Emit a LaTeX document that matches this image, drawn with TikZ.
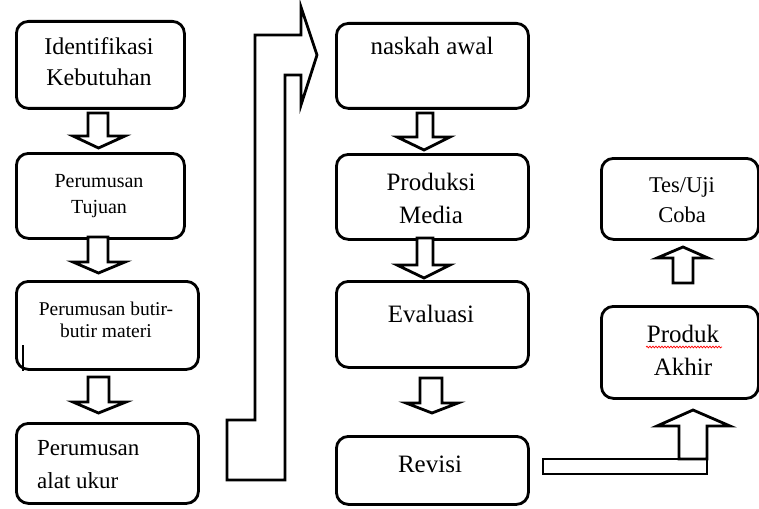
\documentclass[tikz,border=0pt]{standalone}
\usepackage{fontspec}
\setmainfont{Liberation Serif}
\usetikzlibrary{decorations.pathmorphing}
\tikzset{
  box/.style={draw=black, line width=2.8pt, rounded corners=12pt, fill=white, inner sep=0pt, anchor=north west},
  blk/.style={draw=black, line width=2.8pt, fill=white, line join=miter},
  txt/.style={inner sep=0pt, anchor=base},
  txtl/.style={inner sep=0pt, anchor=base west},
}
\newcommand{\fs}[1]{\fontsize{#1}{#1}\selectfont}
\begin{document}
\begin{tikzpicture}[x=1pt,y=-1pt]
\useasboundingbox (0,0) rectangle (759,508);
% boxes
\node[box, minimum width=168pt, minimum height=87pt] (b1) at (15,20) {};
\node[box, minimum width=168pt, minimum height=85pt] (b2) at (15,152) {};
\node[box, minimum width=182pt, minimum height=88pt] (b3) at (15,280) {};
\node[box, minimum width=182pt, minimum height=80pt] (b4) at (15,422) {};
\node[box, minimum width=192pt, minimum height=85pt] (m1) at (335,22) {};
\node[box, minimum width=192pt, minimum height=85pt] (m2) at (335,153) {};
\node[box, minimum width=192pt, minimum height=86pt] (m3) at (335,280) {};
\node[box, minimum width=192pt, minimum height=68pt] (m4) at (335,435) {};
\node[box, minimum width=157pt, minimum height=81pt] (r1) at (600,157) {};
\node[box, minimum width=157pt, minimum height=92pt] (r2) at (600,305) {};
% texts
\node[txt] (t1a) at (99,55) {\fs{24}Identifikasi};
\node[txt] (t1b) at (99,85) {\fs{24}Kebutuhan};
\node[txt] (t2a) at (99,187) {\fs{20}Perumusan};
\node[txt] (t2b) at (99,213) {\fs{20}Tujuan};
\node[txt] (t3a) at (106,315) {\fs{19.5}Perumusan butir-};
\node[txt] (t3b) at (106,337) {\fs{19.5}butir materi};
\node[txtl] (t4a) at (37,455) {\fs{23}Perumusan};
\node[txtl] (t4b) at (37,488) {\fs{23}alat ukur};
\node[txt] (u1) at (432,55) {\fs{25}naskah awal};
\node[txt] (u2a) at (431,190) {\fs{25}Produksi};
\node[txt] (u2b) at (431,223) {\fs{25}Media};
\node[txt] (u3) at (431,322) {\fs{25}Evaluasi};
\node[txt] (u4) at (430,472) {\fs{25}Revisi};
\node[txt] (v1a) at (682,192) {\fs{22.5}Tes/Uji};
\node[txt] (v1b) at (682,222) {\fs{22.5}Coba};
\node[txt] (v2a) at (683,342) {\fs{25}Produk};
\node[txt] (v2b) at (683,375) {\fs{25}Akhir};
% red spell-check squiggle
\draw[red, line width=0.7pt, decorate, decoration={snake, segment length=3pt, amplitude=0.9pt}] (646,347) -- (722,347);
% stray cursor mark
\draw[line width=1.8pt] (23,345) -- (23,371);
% block arrows, left column
\draw[blk] (88,113) -- (108,113) -- (108,136) -- (125,136) -- (98.5,148) -- (73,136) -- (88,136) -- cycle;
\draw[blk] (88,237) -- (108,237) -- (108,262) -- (125,262) -- (98.5,273) -- (73,262) -- (88,262) -- cycle;
\draw[blk] (88,377) -- (109,377) -- (109,402) -- (126,402) -- (98.5,413) -- (73,402) -- (88,402) -- cycle;
% block arrows, middle column
\draw[blk] (417,113) -- (433,113) -- (433,137) -- (450,137) -- (424,150) -- (397,137) -- (417,137) -- cycle;
\draw[blk] (417,238) -- (433,238) -- (433,265) -- (450,265) -- (424,278) -- (397,265) -- (417,265) -- cycle;
\draw[blk] (420,378) -- (442,378) -- (442,403) -- (458,403) -- (432,413) -- (406,403) -- (420,403) -- cycle;
% up arrow right column
\draw[blk] (673,283) -- (673,258) -- (657,258) -- (683,247) -- (708,258) -- (693,258) -- (693,283) -- cycle;
% big bent arrow
\draw[blk] (255,420) -- (255,35) -- (301,35) -- (301,7) -- (317,55) -- (301,105) -- (301,75) -- (285,75) -- (285,480) -- (227,480) -- (227,420) -- cycle;
% bottom arrow from Revisi to Produk Akhir: bar plus up arrow
\draw[blk] (543,459) rectangle (707,474);
\draw[blk] (679,459) -- (679,426) -- (657,426) -- (693,410) -- (730,426) -- (707,426) -- (707,459) -- cycle;
\end{tikzpicture}
\end{document}
